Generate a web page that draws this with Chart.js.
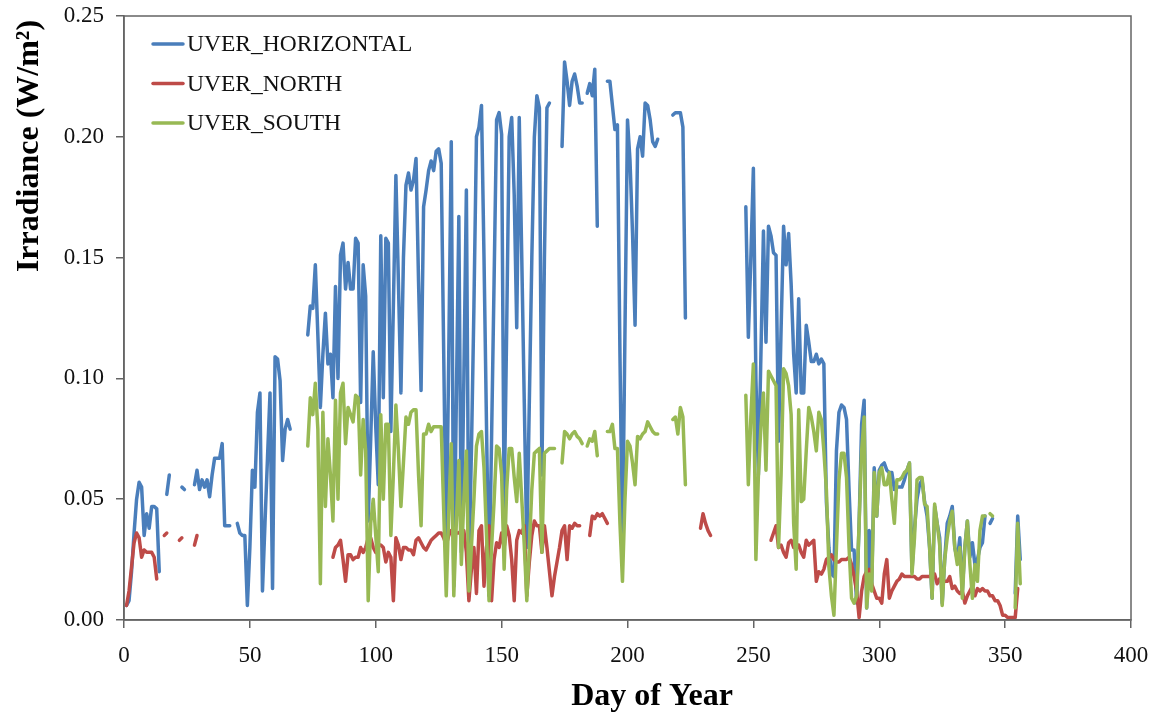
<!DOCTYPE html>
<html>
<head>
<meta charset="utf-8">
<title>UVER irradiance</title>
<script src="https://cdn.jsdelivr.net/npm/chart.js@4.4.1/dist/chart.umd.min.js"></script>
<style>
  html, body { margin: 0; padding: 0; background: #fff; }
  #wrap { width: 1154px; height: 713px; position: relative; }
</style>
</head>
<body>
<div id="wrap"><canvas id="uverChart"></canvas></div>
<script>
// daily values, first entry = day 1, null = no measurement
const firstDay = 1;
const seriesNames = ['UVER_HORIZONTAL', 'UVER_NORTH', 'UVER_SOUTH'];
const seriesColors = ['#4a7ebb', '#be4b48', '#98b954'];
const xTicks = [0, 50, 100, 150, 200, 250, 300, 350, 400];
const yTicks = [0, 0.05, 0.10, 0.15, 0.20, 0.25];

const uverHorizontal = [
  0.006, 0.008, 0.020, 0.036, 0.050, 0.057, 0.055, 0.035, 0.044, 0.038,
  0.047, 0.047, 0.046, 0.020, null, null, 0.052, 0.060, null, null,
  null, null, 0.055, 0.054, null, null, null, 0.056, 0.062, 0.054,
  0.058, 0.055, 0.058, 0.051, 0.060, 0.067, 0.067, 0.067, 0.073, 0.039,
  0.039, 0.039, null, null, 0.040, 0.036, 0.035, 0.035, 0.006, 0.030,
  0.062, 0.055, 0.086, 0.094, 0.012, 0.040, 0.067, 0.094, 0.013, 0.109,
  0.108, 0.099, 0.066, 0.079, 0.083, 0.079, null, null, null, null,
  null, null, 0.118, 0.130, 0.129, 0.147, 0.118, 0.088, 0.110, 0.127,
  0.106, 0.110, 0.092, 0.138, 0.100, 0.151, 0.156, 0.137, 0.148, 0.137,
  0.137, 0.158, 0.156, 0.090, 0.147, 0.134, 0.041, 0.075, 0.111, 0.080,
  0.056, 0.159, 0.092, 0.158, 0.156, 0.078, 0.130, 0.184, 0.140, 0.094,
  0.150, 0.180, 0.185, 0.178, 0.182, 0.191, 0.140, 0.095, 0.171, 0.178,
  0.186, 0.190, 0.186, 0.194, 0.195, 0.189, 0.110, 0.028, 0.110, 0.198,
  0.014, 0.090, 0.167, 0.028, 0.100, 0.178, 0.020, 0.070, 0.130, 0.200,
  0.204, 0.213, 0.150, 0.080, 0.010, 0.075, 0.140, 0.207, 0.210, 0.201,
  0.046, 0.120, 0.200, 0.208, 0.176, 0.121, 0.208, 0.150, 0.090, 0.030,
  0.090, 0.150, 0.200, 0.217, 0.212, 0.060, 0.150, 0.212, 0.214, null,
  null, null, null, 0.196, 0.231, 0.223, 0.213, 0.223, 0.226, 0.221,
  0.214, 0.214, null, 0.218, 0.222, 0.217, 0.228, 0.163, null, null,
  null, 0.223, 0.223, 0.213, 0.203, 0.205, 0.110, 0.030, 0.120, 0.207,
  0.190, 0.160, 0.122, 0.195, 0.200, 0.192, 0.214, 0.213, 0.207, 0.198,
  0.196, 0.199, null, null, null, null, null, 0.209, 0.210, 0.210,
  0.210, 0.204, 0.125, null, null, null, null, null, null, null,
  null, null, null, null, null, null, null, null, null, null,
  null, null, null, null, null, null, 0.171, 0.117, 0.150, 0.187,
  0.100, 0.060, 0.110, 0.161, 0.115, 0.163, 0.159, 0.152, 0.151, 0.074,
  0.120, 0.163, 0.147, 0.160, 0.139, 0.110, 0.094, 0.133, 0.094, 0.094,
  0.122, 0.115, 0.107, 0.107, 0.110, 0.106, 0.108, 0.106, 0.049, 0.030,
  0.019, 0.018, 0.070, 0.086, 0.089, 0.088, 0.083, 0.054, 0.029, 0.029,
  0.007, 0.040, 0.081, 0.091, 0.005, 0.037, 0.015, 0.063, 0.043, 0.062,
  0.064, 0.065, 0.062, 0.061, 0.061, 0.054, 0.055, 0.055, 0.055, 0.058,
  0.062, 0.065, 0.020, 0.038, 0.050, 0.056, 0.058, 0.049, 0.043, 0.030,
  0.009, 0.047, 0.040, 0.034, 0.007, 0.025, 0.040, 0.043, 0.047, 0.030,
  0.025, 0.034, 0.012, 0.030, 0.041, 0.026, 0.032, 0.023, 0.025, 0.030,
  0.032, 0.043, null, 0.040, 0.042, null, null, null, null, null,
  null, null, null, 0.011, 0.043, 0.025
];

const uverNorth = [
  0.006, 0.012, 0.022, 0.032, 0.036, 0.034, 0.026, 0.029, 0.028, 0.028,
  0.028, 0.026, 0.017, null, null, 0.035, 0.036, null, null, null,
  null, 0.033, 0.034, null, null, null, null, 0.031, 0.035, null,
  null, null, null, null, null, null, null, null, null, null,
  null, null, null, null, null, null, null, null, null, null,
  null, null, null, null, null, null, null, null, null, null,
  null, null, null, null, null, null, null, null, null, null,
  null, null, null, null, null, null, null, null, null, null,
  null, null, 0.026, 0.030, 0.031, 0.033, 0.025, 0.016, 0.027, 0.027,
  0.025, 0.026, 0.026, 0.030, 0.028, 0.030, 0.034, 0.034, 0.030, 0.028,
  0.031, 0.031, 0.030, 0.024, 0.028, 0.026, 0.008, 0.034, 0.031, 0.025,
  0.030, 0.030, 0.029, 0.029, 0.027, 0.033, 0.034, 0.032, 0.030, 0.029,
  0.031, 0.033, 0.034, 0.035, 0.036, 0.036, 0.034, 0.031, 0.035, 0.037,
  0.036, 0.036, 0.036, 0.037, 0.037, 0.028, 0.008, 0.021, 0.030, 0.011,
  0.037, 0.039, 0.014, 0.030, 0.039, 0.008, 0.025, 0.032, 0.030, 0.036,
  0.030, 0.039, 0.035, 0.025, 0.008, 0.033, 0.037, 0.036, 0.039, 0.010,
  0.024, 0.035, 0.041, 0.039, 0.039, 0.028, 0.039, 0.030, 0.020, 0.010,
  0.018, 0.024, 0.030, 0.037, 0.039, 0.025, 0.039, 0.038, 0.040, 0.039,
  0.039, null, null, null, 0.035, 0.043, 0.042, 0.044, 0.043, 0.044,
  0.042, 0.040, null, null, null, null, null, null, null, null,
  null, null, null, null, null, null, null, null, null, null,
  null, null, null, null, null, null, null, null, null, null,
  null, null, null, null, null, null, null, null, 0.038, 0.044,
  0.040, 0.037, 0.035, null, null, null, null, null, null, null,
  null, null, null, null, null, null, null, null, null, null,
  null, null, null, null, null, null, 0.033, 0.036, 0.039, 0.030,
  0.031, 0.028, 0.026, 0.032, 0.033, 0.030, 0.031, 0.031, 0.028, 0.026,
  0.033, 0.031, 0.032, 0.033, 0.016, 0.020, 0.019, 0.021, 0.025, 0.026,
  0.027, 0.025, 0.024, 0.024, 0.025, 0.025, 0.025, 0.026, 0.023, 0.018,
  0.012, 0.001, 0.012, 0.018, 0.020, 0.021, 0.015, 0.012, 0.009, 0.009,
  0.007, 0.019, 0.025, 0.009, 0.012, 0.014, 0.016, 0.017, 0.019, 0.018,
  0.018, 0.018, 0.018, 0.018, 0.017, 0.017, 0.018, 0.018, 0.018, 0.018,
  0.019, 0.019, 0.015, 0.017, 0.016, 0.016, 0.016, 0.018, 0.013, 0.014,
  0.012, 0.011, 0.012, 0.007, 0.010, 0.012, 0.014, 0.010, 0.013, 0.012,
  0.013, 0.012, 0.012, 0.010, 0.010, 0.008, 0.008, 0.006, 0.002, 0.002,
  0.001, 0.001, 0.001, 0.001, 0.013, null
];

const uverSouth = [
  null, null, null, null, null, null, null, null, null, null,
  null, null, null, null, null, null, null, null, null, null,
  null, null, null, null, null, null, null, null, null, null,
  null, null, null, null, null, null, null, null, null, null,
  null, null, null, null, null, null, null, null, null, null,
  null, null, null, null, null, null, null, null, null, null,
  null, null, null, null, null, null, null, null, null, null,
  null, null, 0.072, 0.092, 0.085, 0.098, 0.079, 0.015, 0.086, 0.047,
  0.075, 0.060, 0.041, 0.091, 0.050, 0.094, 0.098, 0.073, 0.088, 0.085,
  0.082, 0.093, 0.092, 0.060, 0.083, 0.070, 0.008, 0.040, 0.050, 0.035,
  0.020, 0.085, 0.050, 0.081, 0.081, 0.035, 0.060, 0.089, 0.070, 0.047,
  0.065, 0.084, 0.081, 0.086, 0.087, 0.087, 0.060, 0.039, 0.077, 0.077,
  0.081, 0.078, 0.080, 0.080, 0.080, 0.080, 0.045, 0.010, 0.045, 0.073,
  0.010, 0.040, 0.066, 0.023, 0.050, 0.070, 0.012, 0.030, 0.050, 0.072,
  0.077, 0.078, 0.063, 0.035, 0.008, 0.030, 0.049, 0.072, 0.071, 0.060,
  0.021, 0.054, 0.071, 0.071, 0.059, 0.049, 0.069, 0.050, 0.031, 0.008,
  0.030, 0.054, 0.069, 0.070, 0.071, 0.028, 0.069, 0.070, 0.071, 0.071,
  0.071, null, null, 0.065, 0.078, 0.077, 0.075, 0.077, 0.078, 0.076,
  0.075, 0.073, null, 0.072, 0.075, 0.074, 0.078, 0.068, null, null,
  null, 0.078, 0.078, 0.081, 0.071, 0.071, 0.040, 0.016, 0.050, 0.074,
  0.072, 0.065, 0.056, 0.076, 0.075, 0.077, 0.078, 0.082, 0.080, 0.078,
  0.077, 0.077, null, null, null, null, null, 0.083, 0.084, 0.077,
  0.088, 0.084, 0.056, null, null, null, null, null, null, null,
  null, null, null, null, null, null, null, null, null, null,
  null, null, null, null, null, null, 0.093, 0.056, 0.084, 0.106,
  0.025, 0.060, 0.080, 0.094, 0.062, 0.103, 0.101, 0.099, 0.097, 0.030,
  0.060, 0.104, 0.102, 0.097, 0.085, 0.040, 0.021, 0.087, 0.049, 0.050,
  0.070, 0.088, 0.084, 0.078, 0.070, 0.086, 0.083, 0.070, 0.054, 0.022,
  0.010, 0.002, 0.030, 0.058, 0.069, 0.069, 0.059, 0.030, 0.009, 0.007,
  0.010, 0.040, 0.070, 0.084, 0.005, 0.019, 0.012, 0.061, 0.043, 0.061,
  0.063, 0.056, 0.056, 0.061, 0.050, 0.040, 0.058, 0.058, 0.059, 0.061,
  0.062, 0.065, 0.019, 0.034, 0.058, 0.059, 0.059, 0.048, 0.047, 0.030,
  0.009, 0.048, 0.040, 0.031, 0.006, 0.025, 0.034, 0.041, 0.045, 0.030,
  0.023, 0.030, 0.009, 0.030, 0.041, 0.023, 0.009, 0.023, 0.016, 0.037,
  0.043, 0.043, null, 0.044, 0.043, null, null, null, null, null,
  null, null, null, 0.005, 0.040, 0.015
];

const serif = '"Liberation Serif", "Times New Roman", serif';
const axisColor = '#646464';

function toPoints(values) {
  return values.map((v, i) => ({ x: firstDay + i, y: v }));
}

// legend, plot frame and the two axis titles are placed like the Excel original
const decorations = {
  id: 'decorations',
  afterDraw(chart) {
    const { ctx, chartArea } = chart;
    ctx.save();
    ctx.strokeStyle = axisColor;
    ctx.lineWidth = 1.5;
    ctx.strokeRect(chartArea.left, chartArea.top, chartArea.right - chartArea.left, chartArea.bottom - chartArea.top);

    ctx.font = '23.5px ' + serif;
    ctx.textBaseline = 'middle';
    ctx.fillStyle = '#111';
    seriesNames.forEach((name, i) => {
      const y = 44 + i * 39.5;
      ctx.strokeStyle = seriesColors[i];
      ctx.lineWidth = 3.5;
      ctx.lineCap = 'round';
      ctx.beginPath();
      ctx.moveTo(153, y);
      ctx.lineTo(183, y);
      ctx.stroke();
      ctx.fillText(name, 187, y + 1);
    });

    ctx.font = 'bold 32px ' + serif;
    ctx.fillStyle = '#000';
    ctx.textAlign = 'center';
    ctx.fillText('Day of Year', 652, 697);

    ctx.translate(30, 146);
    ctx.rotate(-Math.PI / 2);
    ctx.fillText('Irradiance (W/m\u00b2)', 0, 0);
    ctx.restore();
  }
};

const datasets = [uverHorizontal, uverNorth, uverSouth].map((vals, i) => ({
  label: seriesNames[i],
  data: toPoints(vals),
  borderColor: seriesColors[i],
  backgroundColor: seriesColors[i],
  borderWidth: 3.5,
  pointRadius: 0,
  pointHoverRadius: 0,
  borderJoinStyle: 'round',
  borderCapStyle: 'round',
  spanGaps: false,
  tension: 0,
  order: 3 - i
}));

new Chart(document.getElementById('uverChart'), {
  type: 'line',
  data: { datasets },
  options: {
    responsive: true,
    maintainAspectRatio: false,
    animation: false,
    devicePixelRatio: 1,
    layout: { padding: { top: 16, right: 23, left: 0, bottom: 0 } },
    plugins: {
      legend: { display: false },
      tooltip: { enabled: false }
    },
    scales: {
      x: {
        type: 'linear',
        min: 0,
        max: 400,
        afterBuildTicks: (axis) => { axis.ticks = xTicks.map(v => ({ value: v })); },
        afterFit: (axis) => {
          axis.height = 93;
          axis.paddingLeft = 0;
          axis.paddingRight = 0;
        },
        ticks: { font: { family: serif, size: 23 }, color: '#111', padding: 14, maxRotation: 0 },
        grid: { drawOnChartArea: false, drawTicks: true, tickLength: 8, color: axisColor, lineWidth: 1.5 },
        border: { display: true, color: axisColor, width: 1.5 }
      },
      y: {
        min: 0,
        max: 0.25,
        afterBuildTicks: (axis) => { axis.ticks = yTicks.map(v => ({ value: v })); },
        afterFit: (axis) => {
          axis.width = 124;
          axis.paddingTop = 0;
          axis.paddingBottom = 0;
        },
        ticks: {
          font: { family: serif, size: 23 },
          color: '#111',
          padding: 12,
          callback: (v) => Number(v).toFixed(2)
        },
        grid: { drawOnChartArea: false, drawTicks: true, tickLength: 8, color: axisColor, lineWidth: 1.5 },
        border: { display: true, color: axisColor, width: 1.5 }
      }
    }
  },
  plugins: [decorations]
});
</script>
</body>
</html>
